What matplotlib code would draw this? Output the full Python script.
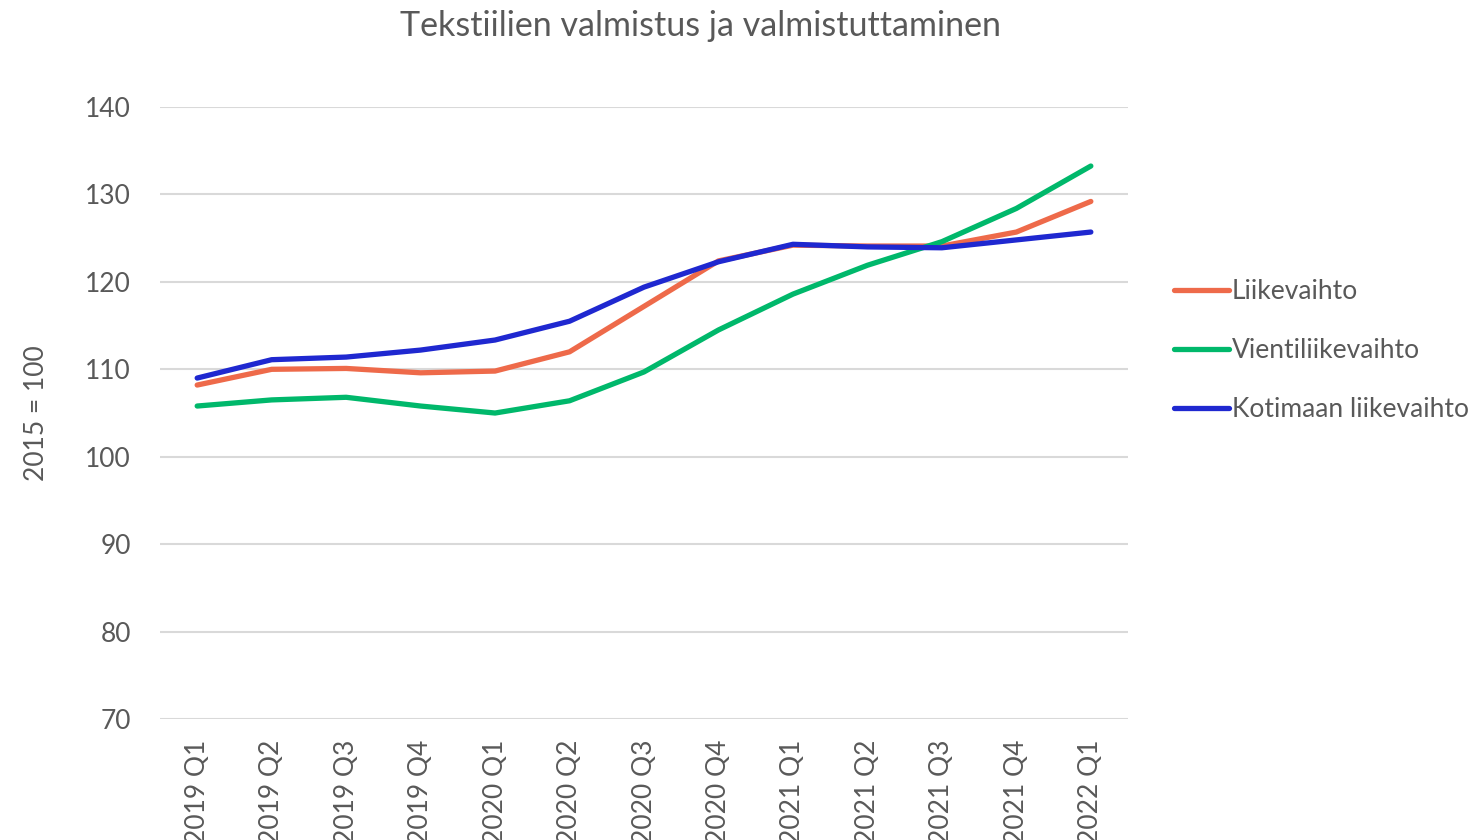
import numpy as np
import matplotlib.pyplot as plt

plt.rcParams['font.family'] = ['Lato', 'DejaVu Sans']

quarters = ['2019 Q1', '2019 Q2', '2019 Q3', '2019 Q4',
            '2020 Q1', '2020 Q2', '2020 Q3', '2020 Q4',
            '2021 Q1', '2021 Q2', '2021 Q3', '2021 Q4', '2022 Q1']
liikevaihto = [108.2, 110.0, 110.1, 109.6, 109.8, 112.0, 117.2, 122.4,
               124.2, 124.1, 124.1, 125.7, 129.2]
vienti = [105.8, 106.5, 106.8, 105.8, 105.0, 106.4, 109.7, 114.5,
          118.6, 121.9, 124.6, 128.4, 133.25]
kotimaa = [109.0, 111.1, 111.4, 112.2, 113.35, 115.5, 119.4, 122.3,
           124.3, 124.0, 123.9, 124.8, 125.7]

grey = '#595959'
x = np.arange(len(quarters))

fig = plt.figure(figsize=(14.81, 8.4), dpi=100)
ax = fig.add_axes([0.108, 0.144, 0.6537, 0.7286])

ax.plot(x, liikevaihto, color='#EE6A4A', lw=3.8, solid_capstyle='round', label='Liikevaihto')
ax.plot(x, vienti, color='#00B86B', lw=3.8, solid_capstyle='round', label='Vientiliikevaihto')
ax.plot(x, kotimaa, color='#1F28D0', lw=3.8, solid_capstyle='round', label='Kotimaan liikevaihto')

ax.set_xlim(-0.5, len(quarters) - 0.5)
ax.set_ylim(70, 140)
ax.set_yticks(range(70, 141, 10))
ax.set_xticks(x)
ax.set_xticklabels(quarters, rotation=90, va='top')
ax.tick_params(length=0, labelsize=19, labelcolor=grey)
ax.tick_params(axis='x', pad=15)
ax.tick_params(axis='y', pad=21)
ax.grid(axis='y', color='#D9D9D9', lw=1.5)
ax.set_axisbelow(True)
for s in ax.spines.values():
    s.set_visible(False)

ax.set_ylabel('2015 = 100', fontsize=19, color=grey, labelpad=26)
fig.suptitle('Tekstiilien valmistus ja valmistuttaminen', fontsize=24.5, color=grey,
             x=0.4727, y=0.988)

leg = ax.legend(loc='center left', bbox_to_anchor=(1.037, 0.602), frameon=False,
                fontsize=19, labelcolor=grey, handlelength=2.05, handletextpad=0.12,
                labelspacing=1.3, borderaxespad=0)

fig.savefig('out.png', dpi=100)
